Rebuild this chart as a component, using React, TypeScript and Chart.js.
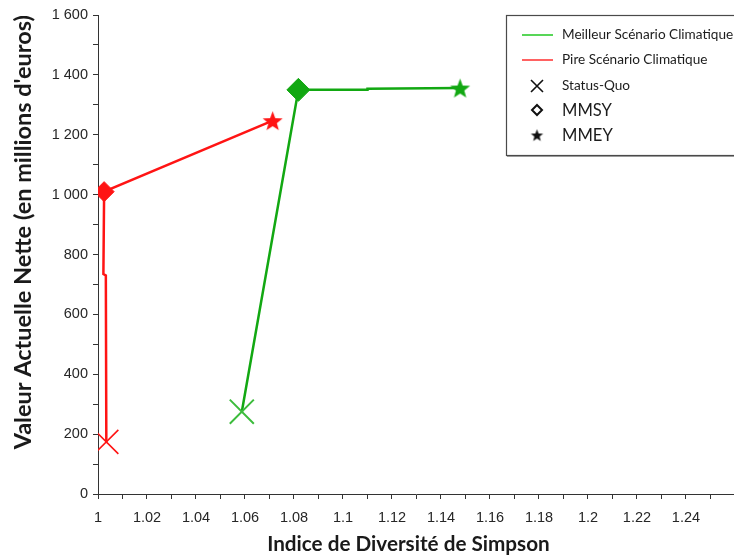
import React, { useEffect, useRef } from "react";
import { Chart, registerables } from "chart.js";

Chart.register(...registerables);

// ---- Data ----
const seriesLabels = ["Meilleur Scénario Climatique", "Pire Scénario Climatique"];
const markerLabels = ["Status-Quo", "MMSY", "MMEY"];

// Meilleur scénario (green)
const bestX = [1.0587, 1.0818, 1.11, 1.11, 1.1478];
const bestY = [275, 1350, 1350, 1354, 1356];
const bestMarkers = ["sq", "mmsy", "", "", "mmey"];

// Pire scénario (red)
const worstX = [1.0034, 1.0032, 1.0022, 1.0025, 1.0713];
const worstY = [174, 730, 735, 1010, 1247];
const worstMarkers = ["sq", "", "", "mmsy", "mmey"];

const xMin = 1;
const xMax = 1.2596;
const xStep = 0.01;
const yMin = 0;
const yMax = 1600;
const yStep = 100;

const GREEN = "#12a812";
const GREEN_X = "#3cbc3c";
const RED = "#ff1414";

function makeStar(color: string, outer: number): HTMLCanvasElement {
  const c = document.createElement("canvas");
  const s = Math.ceil(outer * 2 + 2);
  c.width = s;
  c.height = s;
  const g = c.getContext("2d")!;
  const cx = s / 2;
  const cy = s / 2 + outer * 0.1;
  const inner = outer * 0.42;
  g.beginPath();
  for (let i = 0; i < 10; i++) {
    const r = i % 2 === 0 ? outer : inner;
    const a = -Math.PI / 2 + (i * Math.PI) / 5;
    const px = cx + r * Math.cos(a);
    const py = cy + r * Math.sin(a);
    if (i === 0) g.moveTo(px, py);
    else g.lineTo(px, py);
  }
  g.closePath();
  g.fillStyle = color;
  g.fill();
  return c;
}

function fmtThousands(v: number): string {
  const s = String(Math.round(v));
  return s.replace(/\B(?=(\d{3})+(?!\d))/g, " ");
}

const legendPlugin = {
  id: "customLegend",
  afterDraw(chart: any) {
    const ctx = chart.ctx as CanvasRenderingContext2D;
    ctx.save();
    const left = 506;
    const top = 15;
    const right = 740;
    const bottom = 155;
    ctx.fillStyle = "#ffffff";
    ctx.fillRect(left, top, right - left, bottom - top);
    ctx.strokeStyle = "#4a4a4a";
    ctx.lineWidth = 1.2;
    ctx.strokeRect(left + 0.5, top + 0.5, right - left, bottom - top);
    ctx.strokeStyle = "#9a9a9a";
    ctx.lineWidth = 1;
    ctx.beginPath();
    ctx.moveTo(left + 1, bottom + 1.5);
    ctx.lineTo(right, bottom + 1.5);
    ctx.stroke();

    const textX = 562;
    const rowsY = [35, 60, 86, 110, 135];
    // lines
    ctx.lineWidth = 1.6;
    ctx.strokeStyle = "#2ecc2e";
    ctx.beginPath();
    ctx.moveTo(522, rowsY[0]);
    ctx.lineTo(553, rowsY[0]);
    ctx.stroke();
    ctx.strokeStyle = "#ff3a3a";
    ctx.beginPath();
    ctx.moveTo(522, rowsY[1]);
    ctx.lineTo(553, rowsY[1]);
    ctx.stroke();
    // X symbol
    ctx.strokeStyle = "#111";
    ctx.lineWidth = 1.6;
    ctx.beginPath();
    ctx.moveTo(531, rowsY[2] - 6);
    ctx.lineTo(543, rowsY[2] + 6);
    ctx.moveTo(543, rowsY[2] - 6);
    ctx.lineTo(531, rowsY[2] + 6);
    ctx.stroke();
    // diamond
    ctx.lineWidth = 2;
    ctx.beginPath();
    ctx.moveTo(537, rowsY[3] - 5);
    ctx.lineTo(542, rowsY[3]);
    ctx.lineTo(537, rowsY[3] + 5);
    ctx.lineTo(532, rowsY[3]);
    ctx.closePath();
    ctx.stroke();
    // star
    const st = makeStar("#111", 6.5);
    ctx.drawImage(st, 537 - st.width / 2, rowsY[4] - st.height / 2);

    ctx.fillStyle = "#1c1c1c";
    ctx.textBaseline = "middle";
    ctx.textAlign = "left";
    ctx.font = "13.6px Lato, 'Open Sans', sans-serif";
    ctx.fillText(seriesLabels[0], textX, rowsY[0]);
    ctx.fillText(seriesLabels[1], textX, rowsY[1]);
    ctx.fillText(markerLabels[0], textX, rowsY[2]);
    ctx.font = "16.6px Lato, 'Open Sans', sans-serif";
    ctx.fillText(markerLabels[1], textX, rowsY[3] + 1);
    ctx.fillText(markerLabels[2], textX, rowsY[4] + 1);
    ctx.restore();
  },
};

export default function App() {
  const ref = useRef<HTMLCanvasElement | null>(null);

  useEffect(() => {
    if (!ref.current) return;
    const greenStar = makeStar(GREEN, 10.5);
    const redStar = makeStar(RED, 10.5);

    const styleFor = (m: string, star: HTMLCanvasElement) =>
      m === "sq" ? "crossRot" : m === "mmsy" ? "rectRot" : m === "mmey" ? star : "circle";

    const chart = new Chart(ref.current, {
      type: "line",
      data: {
        datasets: [
          {
            label: seriesLabels[0],
            data: bestX.map((x, i) => ({ x, y: bestY[i] })),
            borderColor: GREEN,
            backgroundColor: GREEN,
            borderWidth: 2.5,
            pointStyle: bestMarkers.map((m) => styleFor(m, greenStar)) as any,
            pointRadius: bestMarkers.map((m) => (m === "sq" ? 17 : m === "mmsy" ? 11.5 : m === "mmey" ? 10 : 0)),
            pointBorderWidth: bestMarkers.map((m) => (m === "sq" ? 2 : 1)),
            pointBorderColor: bestMarkers.map((m) => (m === "sq" ? GREEN_X : GREEN)),
            pointBackgroundColor: GREEN,
            tension: 0,
          },
          {
            label: seriesLabels[1],
            data: worstX.map((x, i) => ({ x, y: worstY[i] })),
            borderColor: RED,
            backgroundColor: RED,
            borderWidth: 2.5,
            pointStyle: worstMarkers.map((m) => styleFor(m, redStar)) as any,
            pointRadius: worstMarkers.map((m) => (m === "sq" ? 17 : m === "mmsy" ? 10 : m === "mmey" ? 10 : 0)),
            pointBorderWidth: worstMarkers.map((m) => (m === "sq" ? 1.6 : 1)),
            pointBorderColor: RED,
            pointBackgroundColor: RED,
            tension: 0,
          },
        ],
      },
      options: {
        animation: false,
        responsive: true,
        maintainAspectRatio: false,
        layout: { autoPadding: false, padding: { top: 15, right: 0, left: 0, bottom: 0 } },
        plugins: {
          legend: { display: false },
          tooltip: { enabled: false },
        },
        scales: {
          x: {
            type: "linear",
            min: xMin,
            max: xMax,
            afterFit(s: any) {
              s.height = 64;
              s.paddingLeft = 0;
              s.paddingRight = 0;
            },
            ticks: {
              stepSize: xStep,
              includeBounds: false,
              autoSkip: false,
              maxRotation: 0,
              padding: 10,
              color: "#262626",
              font: { family: "'Liberation Sans', Arial, sans-serif", size: 14.5 },
              callback: (v: any) => {
                const n = Math.round(Number(v) * 100);
                if (n % 2 !== 0) return "";
                return String(n / 100);
              },
            },
            grid: {
              drawOnChartArea: false,
              drawTicks: true,
              tickLength: 5,
              color: "#333",
            },
            border: { display: true, color: "#333", width: 1 },
            title: {
              display: true,
              text: "Indice de Diversité de Simpson   ",
              color: "#1a1a1a",
              font: { family: "Lato, 'Open Sans', sans-serif", size: 20.7, weight: "bold" },
              padding: { top: 0, bottom: 1 },
            },
          },
          y: {
            type: "linear",
            min: yMin,
            max: yMax,
            afterFit(s: any) {
              s.width = 98;
              s.paddingTop = 0;
              s.paddingBottom = 0;
            },
            ticks: {
              stepSize: yStep,
              autoSkip: false,
              padding: 5,
              color: "#262626",
              font: { family: "'Liberation Sans', Arial, sans-serif", size: 14.5 },
              callback: (v: any) => {
                const n = Math.round(Number(v));
                if (n % 200 !== 0) return "";
                return fmtThousands(n);
              },
            },
            grid: {
              drawOnChartArea: false,
              drawTicks: true,
              tickLength: 5,
              color: "#333",
            },
            border: { display: true, color: "#333", width: 1 },
            title: {
              display: true,
              align: "end",
              text: "Valeur Actuelle Nette (en millions d'euros)",
              color: "#1a1a1a",
              font: { family: "Lato, 'Open Sans', sans-serif", size: 23.5, weight: "bold" },
              padding: { top: 9, bottom: 0 },
            },
          },
        },
      },
      plugins: [legendPlugin],
    });
    return () => chart.destroy();
  }, []);

  return (
    <div style={{ position: "absolute", left: 0, top: 0, width: 734, height: 558, background: "#fff" }}>
      <canvas ref={ref} />
    </div>
  );
}
